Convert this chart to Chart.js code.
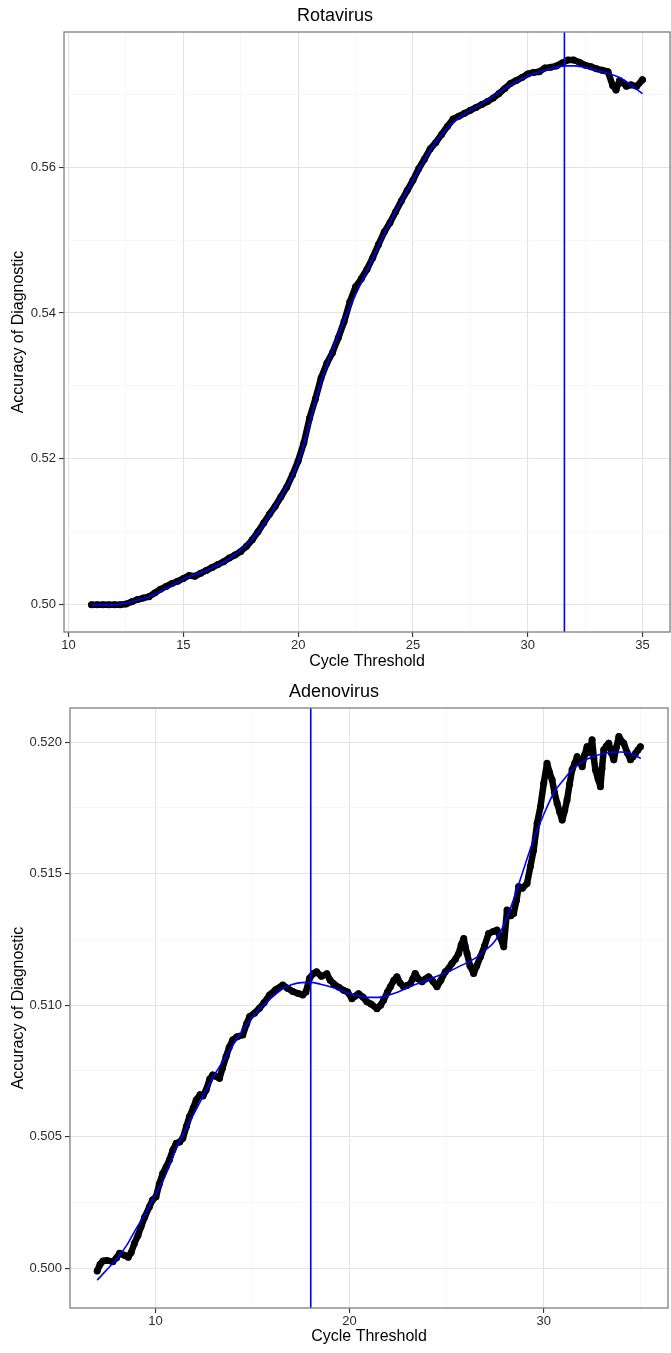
<!DOCTYPE html>
<html lang="en">
<head>
  <meta charset="UTF-8" />
  <title>Accuracy of Diagnostic by Cycle Threshold</title>
  <script src="https://cdn.jsdelivr.net/npm/chart.js"></script>
  <style>
    body {
      margin: 0;
      background: #fff;
    }
    canvas {
      display: block;
    }
  </style>
</head>
<body>
  <canvas id="rotaChart" width="671" height="676"></canvas>
  <canvas id="adenoChart" width="671" height="677"></canvas>

  <script>
    // Rotavirus: accuracy at each cycle threshold
    const rotaCt = [11.00, 11.25, 11.50, 11.75, 12.00, 12.25, 12.50, 12.75, 13.00, 13.25, 13.50, 13.75,
      14.00, 14.25, 14.50, 14.75, 15.00, 15.25, 15.50, 15.75, 16.00, 16.25, 16.50, 16.75,
      17.00, 17.25, 17.50, 17.75, 18.00, 18.25, 18.50, 18.75, 19.00, 19.25, 19.50, 19.75,
      20.00, 20.25, 20.50, 20.75, 21.00, 21.25, 21.50, 21.75, 22.00, 22.25, 22.50, 22.75,
      23.00, 23.25, 23.50, 23.75, 24.00, 24.25, 24.50, 24.75, 25.00, 25.25, 25.50, 25.75,
      26.00, 26.25, 26.50, 26.75, 27.00, 27.25, 27.50, 27.75, 28.00, 28.25, 28.50, 28.75,
      29.00, 29.25, 29.50, 29.75, 30.00, 30.25, 30.50, 30.75, 31.00, 31.25, 31.50, 31.75,
      32.00, 32.25, 32.50, 32.75, 33.00, 33.25, 33.50, 33.70, 33.85, 34.00, 34.15, 34.30,
      34.50, 34.75, 35.00];
    const rotaAcc = [0.5000, 0.5000, 0.5000, 0.5000, 0.5000, 0.5000, 0.5001, 0.5004, 0.5007, 0.5009, 0.5011, 0.5016,
      0.5021, 0.5025, 0.5029, 0.5032, 0.5036, 0.5040, 0.5039, 0.5043, 0.5047, 0.5051, 0.5055, 0.5059,
      0.5064, 0.5068, 0.5073, 0.5080, 0.5089, 0.5100, 0.5112, 0.5124, 0.5135, 0.5148, 0.5161, 0.5178,
      0.5197, 0.5222, 0.5256, 0.5282, 0.5311, 0.5331, 0.5346, 0.5366, 0.5388, 0.5415, 0.5436, 0.5447,
      0.5460, 0.5476, 0.5494, 0.5511, 0.5524, 0.5539, 0.5554, 0.5568, 0.5582, 0.5598, 0.5611, 0.5625,
      0.5634, 0.5645, 0.5656, 0.5666, 0.5670, 0.5674, 0.5678, 0.5682, 0.5686, 0.5690, 0.5695, 0.5701,
      0.5708, 0.5715, 0.5719, 0.5723, 0.5728, 0.5730, 0.5731, 0.5736, 0.5737, 0.5739, 0.5743, 0.5747,
      0.5747, 0.5744, 0.5740, 0.5738, 0.5735, 0.5733, 0.5731, 0.5712, 0.5706, 0.5719, 0.5716, 0.5711,
      0.5713, 0.5711, 0.5720];
    // loess fit
    const rotaFitCt = [11, 12, 13, 14, 15, 16, 17, 18, 19, 20, 21, 22, 23, 24, 25, 26, 27, 28, 29, 30, 31, 31.6, 32, 33, 34, 35];
    const rotaFitAcc = [0.5000, 0.5000, 0.5006, 0.5018, 0.5035, 0.5047, 0.5063, 0.5090, 0.5135, 0.5195, 0.5305, 0.5390,
      0.5458, 0.5524, 0.5582, 0.5635, 0.5668, 0.5687, 0.5708, 0.5725, 0.5735, 0.5739, 0.5739, 0.5733, 0.5723, 0.5701];
    const rotaCutoff = 31.6;
    const rotaXTicks = [10, 15, 20, 25, 30, 35];
    const rotaXMinor = [12.5, 17.5, 22.5, 27.5, 32.5];
    const rotaYTicks = [0.50, 0.52, 0.54, 0.56];
    const rotaYMinor = [0.51, 0.53, 0.55, 0.57];

    // Adenovirus
    const adenoCt = [7.00, 7.15, 7.30, 7.50, 7.80, 8.00, 8.15, 8.40, 8.60, 8.75, 8.92, 9.10, 9.26, 9.45, 9.69, 9.85,
      10.03, 10.20, 10.38, 10.55, 10.72, 10.90, 11.07, 11.25, 11.41, 11.60, 11.75, 11.95, 12.10, 12.30, 12.45, 12.61,
      12.80, 12.95, 13.10, 13.30, 13.45, 13.64, 13.80, 13.98, 14.20, 14.50, 14.70, 14.85, 15.10, 15.36, 15.60, 15.88,
      16.20, 16.56, 16.80, 17.08, 17.35, 17.59, 17.75, 17.94, 18.14, 18.30, 18.55, 18.83, 19.00, 19.18, 19.45, 19.69,
      19.90, 20.12, 20.30, 20.46, 20.70, 20.89, 21.10, 21.41, 21.60, 21.75, 21.95, 22.10, 22.28, 22.44, 22.60, 22.78,
      22.95, 23.13, 23.25, 23.38, 23.55, 23.73, 23.90, 24.07, 24.30, 24.50, 24.70, 24.93, 25.10, 25.27, 25.45, 25.62,
      25.75, 25.88, 25.95, 26.05, 26.20, 26.39, 26.55, 26.74, 26.95, 27.16, 27.40, 27.59, 27.75, 27.94, 28.11, 28.30,
      28.45, 28.60, 28.71, 28.90, 29.14, 29.31, 29.48, 29.66, 29.83, 30.00, 30.17, 30.30, 30.43, 30.55, 30.69, 30.82,
      30.95, 31.08, 31.20, 31.33, 31.46, 31.60, 31.72, 31.85, 31.98, 32.10, 32.23, 32.36, 32.49, 32.58, 32.66, 32.80,
      32.92, 33.00, 33.09, 33.22, 33.35, 33.48, 33.61, 33.74, 33.87, 34.00, 34.12, 34.30, 34.47, 34.60, 34.73, 34.85,
      34.98];
    const adenoAcc = [0.49990, 0.50015, 0.50028, 0.50030, 0.50025, 0.50040, 0.50057, 0.50050, 0.50042, 0.50060, 0.50095, 0.50125, 0.50158, 0.50195, 0.50234, 0.50260,
      0.50272, 0.50320, 0.50361, 0.50385, 0.50412, 0.50450, 0.50475, 0.50480, 0.50494, 0.50540, 0.50576, 0.50610, 0.50640, 0.50660, 0.50655, 0.50678,
      0.50720, 0.50735, 0.50730, 0.50722, 0.50760, 0.50805, 0.50840, 0.50868, 0.50880, 0.50887, 0.50930, 0.50957, 0.50970, 0.50989, 0.51010, 0.51039,
      0.51060, 0.51077, 0.51065, 0.51052, 0.51045, 0.51039, 0.51050, 0.51103, 0.51121, 0.51127, 0.51110, 0.51120, 0.51095, 0.51082, 0.51068, 0.51057,
      0.51050, 0.51025, 0.51035, 0.51044, 0.51030, 0.51013, 0.51005, 0.50987, 0.51000, 0.51019, 0.51050, 0.51070, 0.51095, 0.51108, 0.51085, 0.51070,
      0.51075, 0.51082, 0.51100, 0.51121, 0.51100, 0.51089, 0.51100, 0.51108, 0.51090, 0.51070, 0.51095, 0.51127, 0.51140, 0.51159, 0.51175, 0.51197,
      0.51230, 0.51254, 0.51225, 0.51197, 0.51150, 0.51121, 0.51150, 0.51184, 0.51225, 0.51273, 0.51280, 0.51286, 0.51260, 0.51222, 0.51362, 0.51340,
      0.51349, 0.51400, 0.51451, 0.51445, 0.51463, 0.51527, 0.51590, 0.51692, 0.51755, 0.51844, 0.51920, 0.51885, 0.51857, 0.51810, 0.51768, 0.51735,
      0.51704, 0.51740, 0.51780, 0.51840, 0.51895, 0.51920, 0.51945, 0.51925, 0.51907, 0.51950, 0.51983, 0.51960, 0.52009, 0.51940, 0.51895, 0.51860,
      0.51831, 0.51900, 0.51971, 0.51985, 0.51996, 0.51960, 0.51933, 0.51980, 0.52022, 0.52005, 0.51996, 0.51960, 0.51933, 0.51945, 0.51958, 0.51970,
      0.51983];
    const adenoFitCt = [7, 7.5, 8, 8.5, 9, 9.5, 10, 10.5, 11, 11.5, 12, 12.5, 13, 13.5, 14, 14.5, 15, 15.5, 16, 16.5,
      17, 17.5, 18, 18.5, 19, 19.5, 20, 20.5, 21, 21.5, 22, 22.5, 23, 23.5, 24, 24.5, 25, 25.5, 26, 26.5,
      27, 27.5, 28, 28.5, 29, 29.5, 30, 30.5, 31, 31.5, 32, 32.5, 33, 33.5, 34, 34.5, 35];
    const adenoFitAcc = [0.49955, 0.49995, 0.50035, 0.50085, 0.50150, 0.50210, 0.50280, 0.50350, 0.50445, 0.50520, 0.50590, 0.50660, 0.50730, 0.50790, 0.50850, 0.50905, 0.50955, 0.50995, 0.51030, 0.51060,
      0.51078, 0.51086, 0.51087, 0.51080, 0.51070, 0.51058, 0.51045, 0.51035, 0.51030, 0.51030, 0.51038, 0.51050, 0.51068, 0.51082, 0.51097, 0.51110, 0.51125, 0.51142, 0.51160, 0.51180,
      0.51210, 0.51245, 0.51315, 0.51413, 0.51525, 0.51635, 0.51725, 0.51805, 0.51855, 0.51898, 0.51925, 0.51945, 0.51955, 0.51962, 0.51963, 0.51957, 0.51938];
    const adenoCutoff = 18;
    const adenoXTicks = [10, 20, 30];
    const adenoXMinor = [15, 25, 35];
    const adenoYTicks = [0.500, 0.505, 0.510, 0.515, 0.520];
    const adenoYMinor = [0.5025, 0.5075, 0.5125, 0.5175];

    Chart.defaults.font.family = "'Liberation Sans', Arial, sans-serif";

    // grey frame round the panel, like ggplot's theme_bw
    const panelBorder = {
      id: 'panelBorder',
      afterDraw(chart) {
        const a = chart.chartArea;
        const ctx = chart.ctx;
        ctx.save();
        ctx.strokeStyle = '#7f7f7f';
        ctx.lineWidth = 1.3;
        ctx.strokeRect(a.left, a.top, a.right - a.left, a.bottom - a.top);
        ctx.restore();
      }
    };

    function isMajor(list, v) {
      return list.some(m => Math.abs(m - v) < 1e-9);
    }

    function axisOpts(p) {
      return {
        type: 'linear',
        min: p.min,
        max: p.max,
        afterBuildTicks: scale => {
          scale.ticks = p.major.concat(p.minor).sort((a, b) => a - b).map(v => ({ value: v }));
        },
        afterFit: p.fit,
        border: { display: false },
        grid: {
          color: c => (c.tick && isMajor(p.major, c.tick.value)) ? '#e4e4e4' : '#f2f2f2',
          lineWidth: c => (c.tick && isMajor(p.major, c.tick.value)) ? 1.1 : 0.6,
          tickColor: c => (c.tick && isMajor(p.major, c.tick.value)) ? '#333333' : 'rgba(0,0,0,0)',
          tickLength: 5,
          tickWidth: 1.1
        },
        ticks: {
          autoSkip: false,
          maxRotation: 0,
          padding: p.tickPad,
          color: '#2b2b2b',
          font: { size: 13 },
          callback: v => isMajor(p.major, v) ? v.toFixed(p.dec) : ''
        },
        title: {
          display: true,
          text: p.title,
          color: '#000',
          font: { size: 16 },
          padding: p.titlePad
        }
      };
    }

    function makePanel(id, p) {
      const pts = p.ct.map((x, i) => ({ x: x, y: p.acc[i] }));
      const fit = p.fitCt.map((x, i) => ({ x: x, y: p.fitAcc[i] }));
      const cut = [{ x: p.cutoff, y: p.yMin }, { x: p.cutoff, y: p.yMax }];

      new Chart(document.getElementById(id), {
        type: 'scatter',
        data: {
          datasets: [
            {
              label: 'cutoff',
              data: cut,
              showLine: true,
              borderColor: '#0000ff',
              borderWidth: 1.6,
              pointRadius: 0,
              order: 0
            },
            {
              label: 'fit',
              data: fit,
              showLine: true,
              borderColor: '#0000ff',
              borderWidth: 1.6,
              pointRadius: 0,
              cubicInterpolationMode: 'monotone',
              order: 1
            },
            {
              label: 'accuracy',
              data: pts,
              showLine: true,
              borderColor: '#000',
              borderWidth: 6.5,
              borderJoinStyle: 'round',
              borderCapStyle: 'round',
              pointRadius: 3.5,
              pointBorderWidth: 0,
              pointBackgroundColor: '#000',
              order: 2
            }
          ]
        },
        options: {
          responsive: false,
          animation: false,
          layout: { autoPadding: false, padding: { left: 0, right: p.padRight, top: 0, bottom: 0 } },
          plugins: {
            legend: { display: false },
            tooltip: { enabled: false },
            title: {
              display: true,
              text: p.name,
              color: '#000',
              font: { size: 18, weight: 'normal' },
              padding: { top: 5, bottom: 5.4 }
            }
          },
          scales: {
            x: axisOpts({
              min: p.xMin, max: p.xMax, major: p.xTicks, minor: p.xMinor, dec: 0,
              tickPad: 1, title: 'Cycle Threshold',
              titlePad: { top: 0, bottom: p.xTitlePad },
              fit: s => { s.height = p.xAxisH; }
            }),
            y: axisOpts({
              min: p.yMin, max: p.yMax, major: p.yTicks, minor: p.yMinor, dec: p.yDec,
              tickPad: 3, title: 'Accuracy of Diagnostic',
              titlePad: { top: 9.4, bottom: 0 },
              fit: s => { s.width = p.yAxisW; }
            })
          }
        },
        plugins: [panelBorder]
      });
    }

    makePanel('rotaChart', {
      name: 'Rotavirus',
      ct: rotaCt, acc: rotaAcc, fitCt: rotaFitCt, fitAcc: rotaFitAcc, cutoff: rotaCutoff,
      xMin: 9.8, xMax: 36.2, yMin: 0.49625, yMax: 0.57855,
      xTicks: rotaXTicks, xMinor: rotaXMinor, yTicks: rotaYTicks, yMinor: rotaYMinor, yDec: 2,
      yAxisW: 64, xAxisH: 44, padRight: 1, xTitlePad: 4.9
    });

    makePanel('adenoChart', {
      name: 'Adenovirus',
      ct: adenoCt, acc: adenoAcc, fitCt: adenoFitCt, fitAcc: adenoFitAcc, cutoff: adenoCutoff,
      xMin: 5.6, xMax: 36.4, yMin: 0.49849, yMax: 0.5213,
      xTicks: adenoXTicks, xMinor: adenoXMinor, yTicks: adenoYTicks, yMinor: adenoYMinor, yDec: 3,
      yAxisW: 70, xAxisH: 45, padRight: 3, xTitlePad: 6.4
    });
  </script>
</body>
</html>
